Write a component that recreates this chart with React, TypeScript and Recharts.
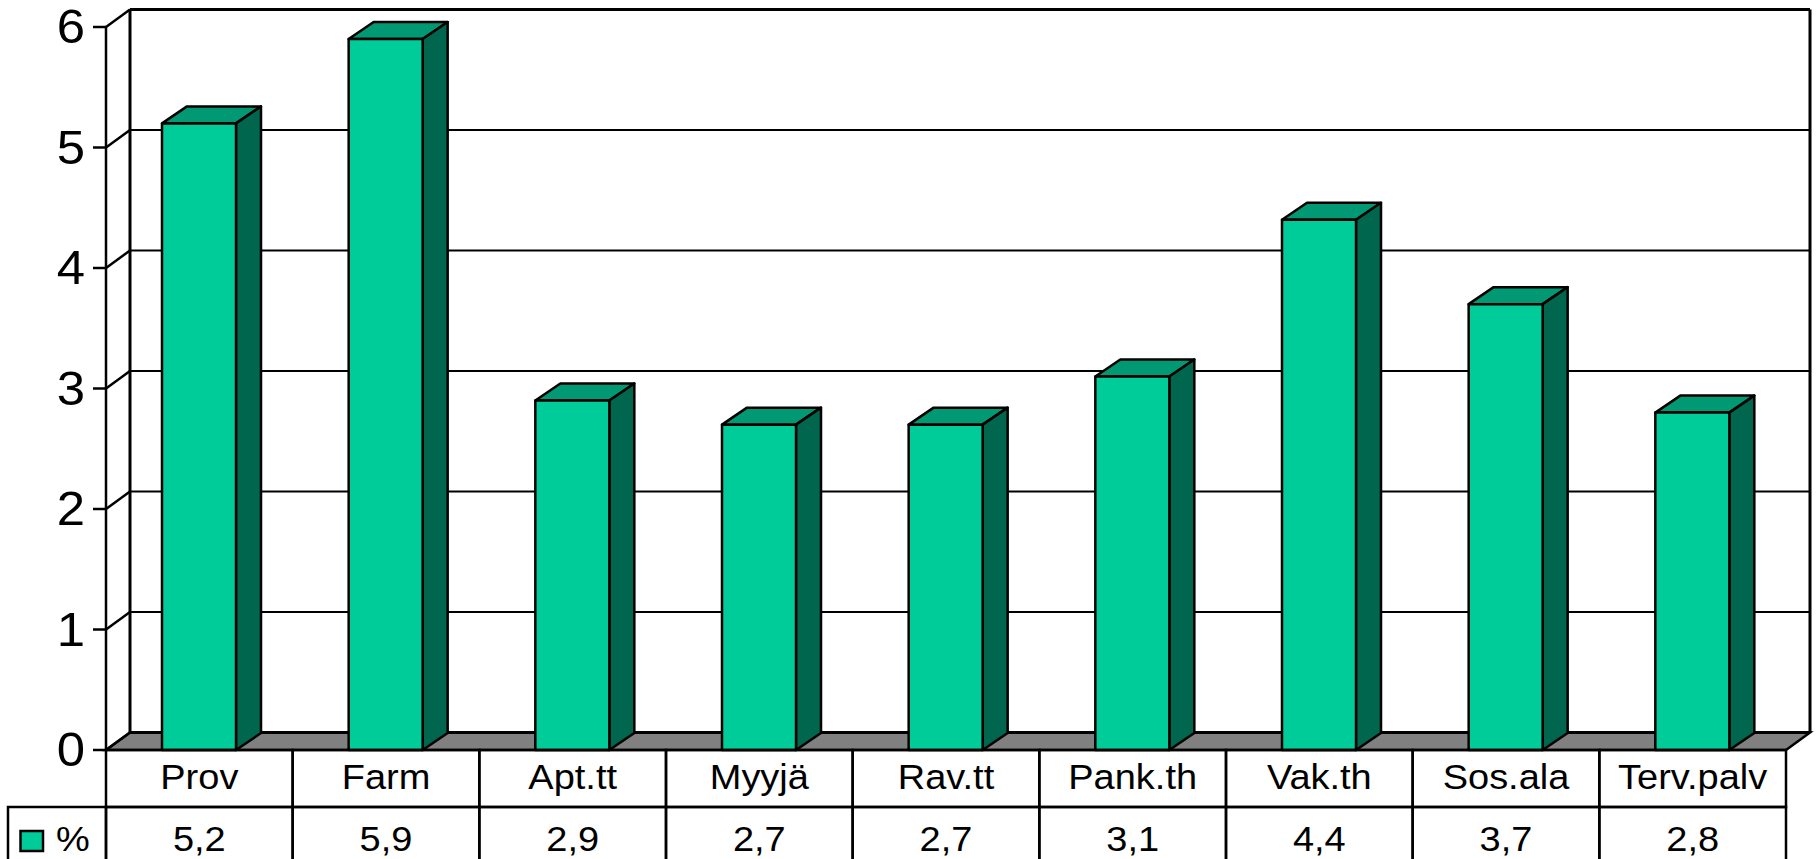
import { BarChart, Bar, XAxis, YAxis, CartesianGrid } from 'recharts';

const categories = ['Prov', 'Farm', 'Apt.tt', 'Myyjä', 'Rav.tt', 'Pank.th', 'Vak.th', 'Sos.ala', 'Terv.palv'];
const percentValues = [5.2, 5.9, 2.9, 2.7, 2.7, 3.1, 4.4, 3.7, 2.8];
const yTicks = [0, 1, 2, 3, 4, 5, 6];

const chartData = categories.map((name, i) => ({ name, percent: percentValues[i] }));

const WIDTH = 1816;
const HEIGHT = 859;
const PLOT_LEFT = 106;
const PLOT_RIGHT = 1786;
const PLOT_TOP = 27;
const PLOT_BOTTOM = 750;
const ROW_SPLIT = 807;
const CELL_WIDTH = (PLOT_RIGHT - PLOT_LEFT) / categories.length;

// 3D offset of the back wall and of the bars
const WALL_DX = 24;
const WALL_DY = 17.5;
const BAR_DX = 25;
const BAR_DY = 17;

const FONT = '"Liberation Sans", Arial, sans-serif';

// Draws the back wall, side wall and floor from the grid line positions
function WallLine(props: any) {
    const { x1, y1, x2 } = props;
    const backY = y1 - WALL_DY;
    const isFloor = Math.abs(y1 - PLOT_BOTTOM) < 1;
    const isTop = Math.abs(y1 - PLOT_TOP) < 1;
    return (
        <g>
            {isFloor && (
                <polygon
                    points={`${x1},${y1} ${x1 + WALL_DX},${backY} ${x2 + WALL_DX},${backY} ${x2},${y1}`}
                    fill="#808080"
                    stroke="#000"
                    strokeWidth={2.5}
                />
            )}
            {isTop && (
                <>
                    <line x1={x1} y1={y1} x2={x1} y2={PLOT_BOTTOM} stroke="#000" strokeWidth={2.5} />
                    <line x1={x1 + WALL_DX} y1={backY} x2={x1 + WALL_DX} y2={PLOT_BOTTOM - WALL_DY} stroke="#000" strokeWidth={3} />
                    <line x1={x2 + WALL_DX} y1={backY} x2={x2 + WALL_DX} y2={PLOT_BOTTOM - WALL_DY} stroke="#000" strokeWidth={3} />
                </>
            )}
            <line x1={x1} y1={y1} x2={x1 + WALL_DX} y2={backY} stroke="#000" strokeWidth={2.5} />
            <line x1={x1 + WALL_DX} y1={backY} x2={x2 + WALL_DX} y2={backY} stroke="#000" strokeWidth={isFloor || isTop ? 3 : 2} />
        </g>
    );
}

function Bar3D(props: any) {
    const { x, y, width, height } = props;
    const right = x + width;
    const bottom = y + height;
    return (
        <g stroke="#000" strokeWidth={2.5} strokeLinejoin="round">
            <polygon
                points={`${x},${y} ${x + BAR_DX},${y - BAR_DY} ${right + BAR_DX},${y - BAR_DY} ${right},${y}`}
                fill="#009973"
            />
            <polygon
                points={`${right},${y} ${right + BAR_DX},${y - BAR_DY} ${right + BAR_DX},${bottom - BAR_DY} ${right},${bottom}`}
                fill="#00664D"
            />
            <rect x={x} y={y} width={width} height={height} fill="#00CC99" />
        </g>
    );
}

function YTick(props: any) {
    const { y, payload } = props;
    return (
        <g>
            <line x1={93} y1={y} x2={PLOT_LEFT} y2={y} stroke="#000" strokeWidth={2.5} />
            <text
                transform={`translate(85,${y + 16}) scale(1.06,1)`}
                textAnchor="end"
                fontFamily={FONT}
                fontSize={48}
                fill="#000"
            >
                {payload.value}
            </text>
        </g>
    );
}

// Data table under the plot: one column per category tick
function TableTick(props: any) {
    const { x, index, payload } = props;
    const left = x - CELL_WIDTH / 2;
    const value = String(percentValues[index]).replace('.', ',');
    const labelStyle = { fontFamily: FONT, fontSize: 35.5, fill: '#000', textAnchor: 'middle' as const };
    return (
        <g>
            <rect x={left} y={PLOT_BOTTOM} width={CELL_WIDTH} height={ROW_SPLIT - PLOT_BOTTOM} fill="none" stroke="#000" strokeWidth={2.5} />
            <rect x={left} y={ROW_SPLIT} width={CELL_WIDTH} height={HEIGHT + 10 - ROW_SPLIT} fill="none" stroke="#000" strokeWidth={2.5} />
            <text transform={`translate(${x},789) scale(1.07,1)`} {...labelStyle}>{payload.value}</text>
            <text transform={`translate(${x},851) scale(1.07,1)`} {...labelStyle}>{value}</text>
            {index === 0 && (
                <g>
                    <rect x={8} y={ROW_SPLIT} width={PLOT_LEFT - 8} height={HEIGHT + 10 - ROW_SPLIT} fill="none" stroke="#000" strokeWidth={2.5} />
                    <rect x={20.5} y={831} width={22.5} height={20} fill="#00CC99" stroke="#000" strokeWidth={2.5} />
                    <text transform="translate(56,851) scale(1.07,1)" fontFamily={FONT} fontSize={35.5} fill="#000">%</text>
                </g>
            )}
        </g>
    );
}

export default function App() {
    return (
        <div style={{ position: 'absolute', left: 0, top: 0, width: WIDTH, height: HEIGHT, overflow: 'hidden', background: '#fff' }}>
            <BarChart
                width={WIDTH}
                height={HEIGHT}
                data={chartData}
                margin={{ top: PLOT_TOP, right: WIDTH - PLOT_RIGHT, bottom: 0, left: 0 }}
                barSize={74}
            >
                <CartesianGrid vertical={false} horizontal={(p: any) => <WallLine key={p.key} {...p} />} />
                <XAxis
                    dataKey="name"
                    height={HEIGHT - PLOT_BOTTOM}
                    interval={0}
                    axisLine={false}
                    tickLine={false}
                    tick={(p: any) => <TableTick {...p} />}
                />
                <YAxis
                    width={PLOT_LEFT}
                    domain={[0, 6]}
                    ticks={yTicks}
                    axisLine={false}
                    tickLine={false}
                    tick={(p: any) => <YTick {...p} />}
                />
                <Bar dataKey="percent" isAnimationActive={false} shape={(p: any) => <Bar3D {...p} />} />
            </BarChart>
        </div>
    );
}
